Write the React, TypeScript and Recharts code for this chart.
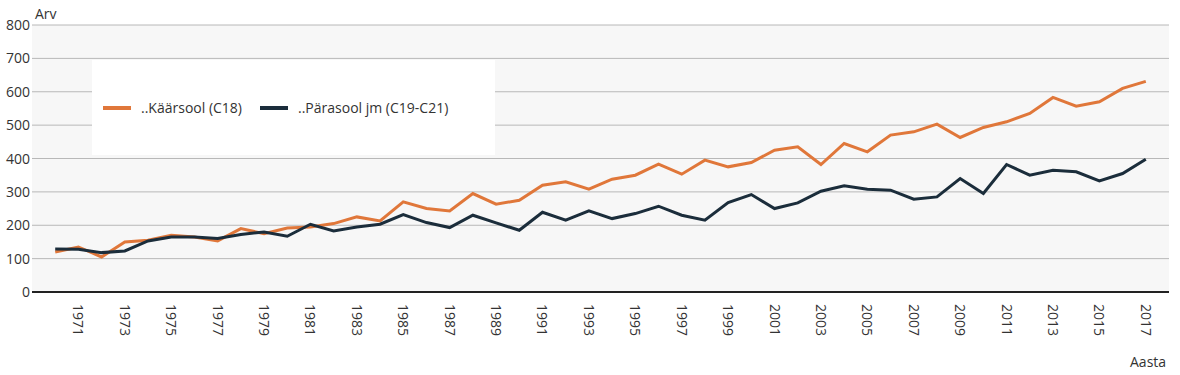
import { LineChart, Line, XAxis, YAxis, CartesianGrid } from "recharts";

const years = [
  1970, 1971, 1972, 1973, 1974, 1975, 1976, 1977, 1978, 1979,
  1980, 1981, 1982, 1983, 1984, 1985, 1986, 1987, 1988, 1989,
  1990, 1991, 1992, 1993, 1994, 1995, 1996, 1997, 1998, 1999,
  2000, 2001, 2002, 2003, 2004, 2005, 2006, 2007, 2008, 2009,
  2010, 2011, 2012, 2013, 2014, 2015, 2016, 2017,
];

const kaarsool = [
  120, 135, 105, 150, 155, 170, 165, 153, 190, 175,
  192, 195, 205, 225, 213, 270, 250, 243, 295, 263,
  275, 320, 330, 308, 338, 350, 383, 353, 395, 375,
  388, 425, 435, 382, 445, 420, 470, 480, 503, 463,
  493, 510, 535, 583, 557, 570, 610, 631,
];

const parasool = [
  129, 128, 118, 123, 153, 165, 165, 160, 172, 180,
  167, 203, 183, 195, 203, 232, 208, 193, 230, 207,
  185, 239, 215, 243, 220, 235, 257, 230, 215, 268,
  292, 250, 267, 302, 318, 308, 305, 278, 285, 340,
  295, 382, 350, 365, 360, 333, 355, 398,
];

const seriesNames = ["..Käärsool (C18)", "..Pärasool jm (C19-C21)"];

const yTicks = [0, 100, 200, 300, 400, 500, 600, 700, 800];
const xTicks = [
  1971, 1973, 1975, 1977, 1979, 1981, 1983, 1985, 1987, 1989, 1991, 1993,
  1995, 1997, 1999, 2001, 2003, 2005, 2007, 2009, 2011, 2013, 2015, 2017,
];

const data = years.map((y, i) => ({ year: y, k: kaarsool[i], p: parasool[i] }));

const FONT = "'Open Sans', sans-serif";
const ORANGE = "#e0773a";
const DARK = "#1b2d3b";

const YTick = ({ y, payload }: any) => (
  <text x={30} y={y + 5} textAnchor="end" fontSize={14} fill="#333" fontFamily={FONT}>
    {payload.value}
  </text>
);

const XTick = ({ x, y, payload }: any) => (
  <text
    transform={`translate(${x - 5},${y + 4}) rotate(90)`}
    textAnchor="start"
    fontSize={14}
    fill="#333"
    fontFamily={FONT}
  >
    {payload.value}
  </text>
);

export default function App() {
  return (
    <div style={{ position: "absolute", left: 0, top: 0, width: 1180, height: 375, background: "#fff" }}>
      <LineChart width={1180} height={375} data={data} margin={{ top: 25, right: 11, bottom: 0, left: 0 }}>
        <CartesianGrid vertical={false} stroke="#b8b8b8" fill="#f7f7f7" strokeWidth={1} />
        <XAxis
          dataKey="year"
          type="number"
          domain={[1969, 2018]}
          ticks={xTicks}
          height={83}
          tick={<XTick />}
          tickLine={false}
          axisLine={{ stroke: "#222", strokeWidth: 2 }}
          interval={0}
        />
        <YAxis
          domain={[0, 800]}
          ticks={yTicks}
          width={32}
          tick={<YTick />}
          tickLine={false}
          axisLine={false}
          interval={0}
        />
        <Line type="linear" dataKey="k" name={seriesNames[0]} stroke={ORANGE} strokeWidth={3} dot={false} isAnimationActive={false} />
        <Line type="linear" dataKey="p" name={seriesNames[1]} stroke={DARK} strokeWidth={3} dot={false} isAnimationActive={false} />
      </LineChart>
      <div
        style={{
          position: "absolute",
          left: 92,
          top: 60,
          width: 403,
          height: 95,
          background: "#fff",
          display: "flex",
          alignItems: "center",
          fontFamily: FONT,
          fontSize: 14,
          color: "#333",
        }}
      >
        <span style={{ display: "inline-block", width: 28, height: 4, background: ORANGE, marginLeft: 11, marginRight: 10 }} />
        <span>{seriesNames[0]}</span>
        <span style={{ display: "inline-block", width: 28, height: 4, background: DARK, marginLeft: 18, marginRight: 10 }} />
        <span>{seriesNames[1]}</span>
      </div>
      <div style={{ position: "absolute", left: 35, top: 4, fontFamily: FONT, fontSize: 14, color: "#333" }}>Arv</div>
      <div style={{ position: "absolute", left: 1130, top: 352, fontFamily: FONT, fontSize: 14, color: "#333" }}>Aasta</div>
    </div>
  );
}
